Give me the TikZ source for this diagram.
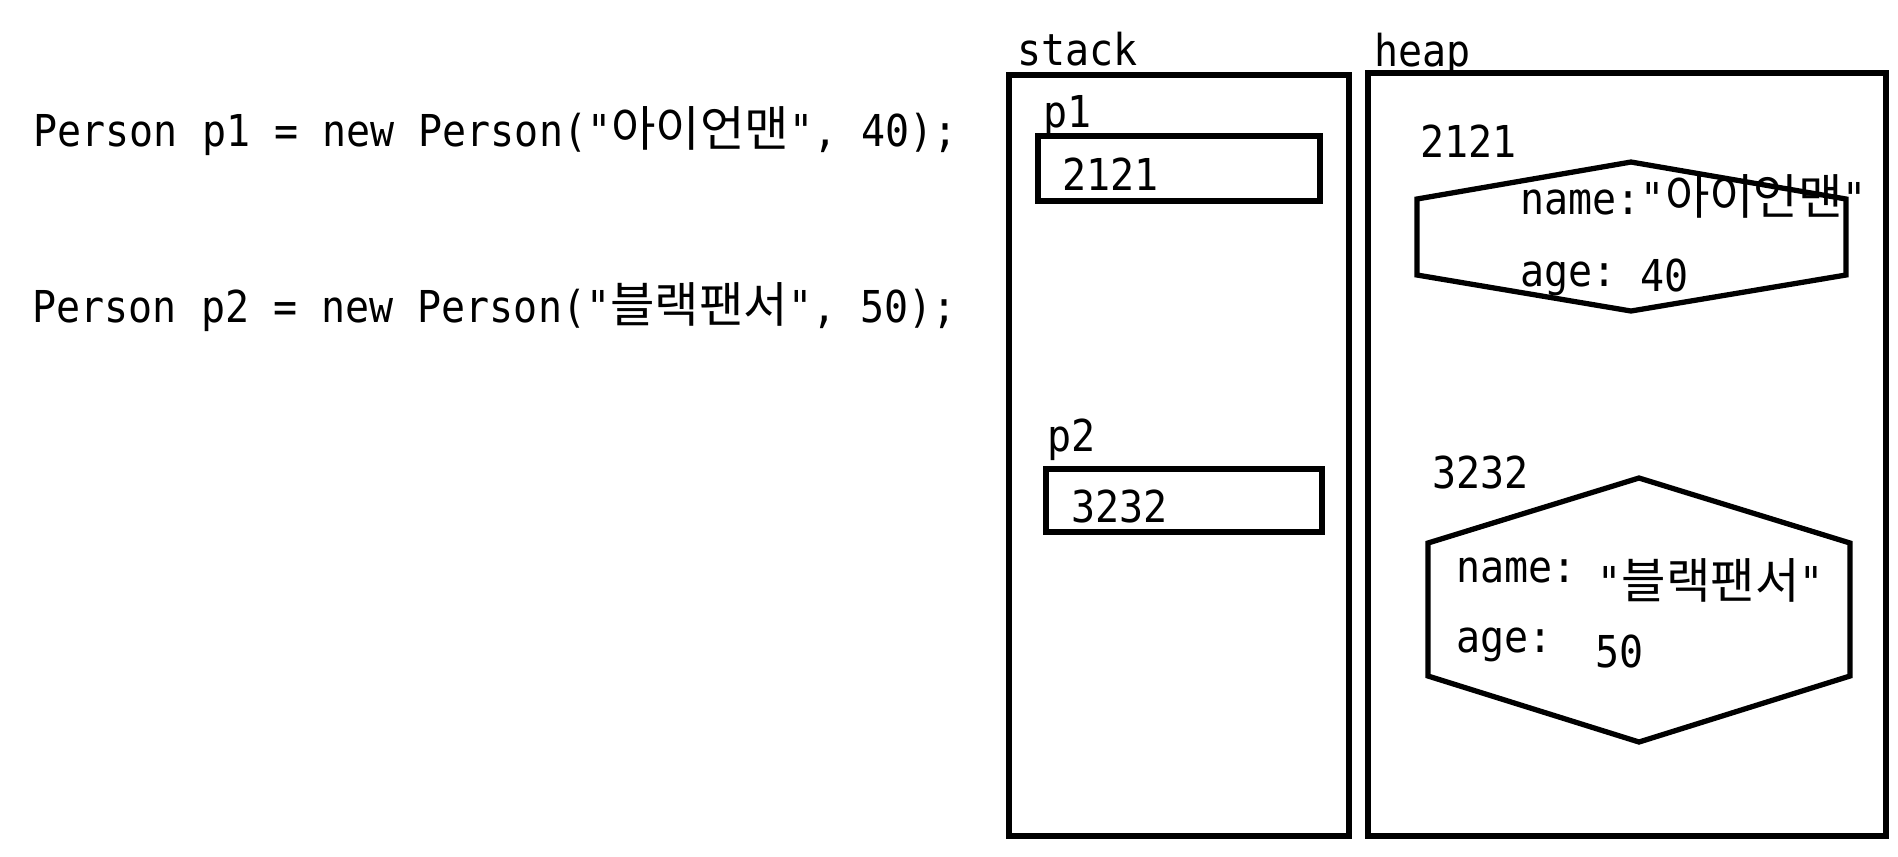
\documentclass[tikz,border=0pt]{standalone}
\usepackage{fontspec}
\setmainfont{DejaVu Sans Mono}[FakeStretch=0.91,Ligatures=TeXOff]
\newfontfamily\kr{Noto Sans CJK KR}[Scale=1.1]
\begin{document}
\begin{tikzpicture}[x=1cm,y=-1cm,line width=1.5pt,
	every node/.style={inner sep=0pt,anchor=base west,font=\fontsize{12.5}{15}\selectfont}]
	\useasboundingbox (0,0) rectangle (18.98,8.56);
	% Code
	\node (code1) at (0.31,1.465) {Person p1 = new Person("{\kr 아이언맨}", 40);};
	\node (code2) at (0.30,3.22) {Person p2 = new Person("{\kr 블랙팬서}", 50);};
	% Memory areas
	\draw (10.09,0.75) rectangle (13.49,8.36);
	\draw (13.68,0.73) rectangle (18.86,8.36);
	\node (stacklbl) at (10.15,0.65) {stack};
	\node (heaplbl) at (13.72,0.66) {heap};
	% Stack
	\node (p1lbl) at (10.41,1.27) {p1};
	\draw (10.38,1.36) rectangle (13.20,2.01);
	\node (p1ref) at (10.60,1.90) {2121};
	\node (p2lbl) at (10.45,4.51) {p2};
	\draw (10.46,4.69) rectangle (13.22,5.32);
	\node (p2ref) at (10.69,5.22) {3232};
	% Heap
	\node (addr1) at (14.18,1.57) {2121};
	\draw (14.17,1.99) -- (16.31,1.62) -- (18.46,1.99) -- (18.46,2.75) -- (16.31,3.11) -- (14.17,2.75) -- cycle;
	\node (name1) at (15.18,2.14) {name:"{\kr 아이언맨}"};
	\node (age1) at (15.18,2.86) {age:};
	\node (val1) at (16.38,2.91) {40};
	\node (addr2) at (14.30,4.88) {3232};
	\draw (14.28,5.43) -- (16.39,4.78) -- (18.50,5.43) -- (18.50,6.76) -- (16.39,7.42) -- (14.28,6.76) -- cycle;
	\node (name2) at (14.54,5.82) {name:};
	\node (nameval2) at (15.95,5.98) {"{\kr 블랙팬서}"};
	\node (age2) at (14.54,6.52) {age:};
	\node (val2) at (15.93,6.67) {50};
\end{tikzpicture}
\end{document}
